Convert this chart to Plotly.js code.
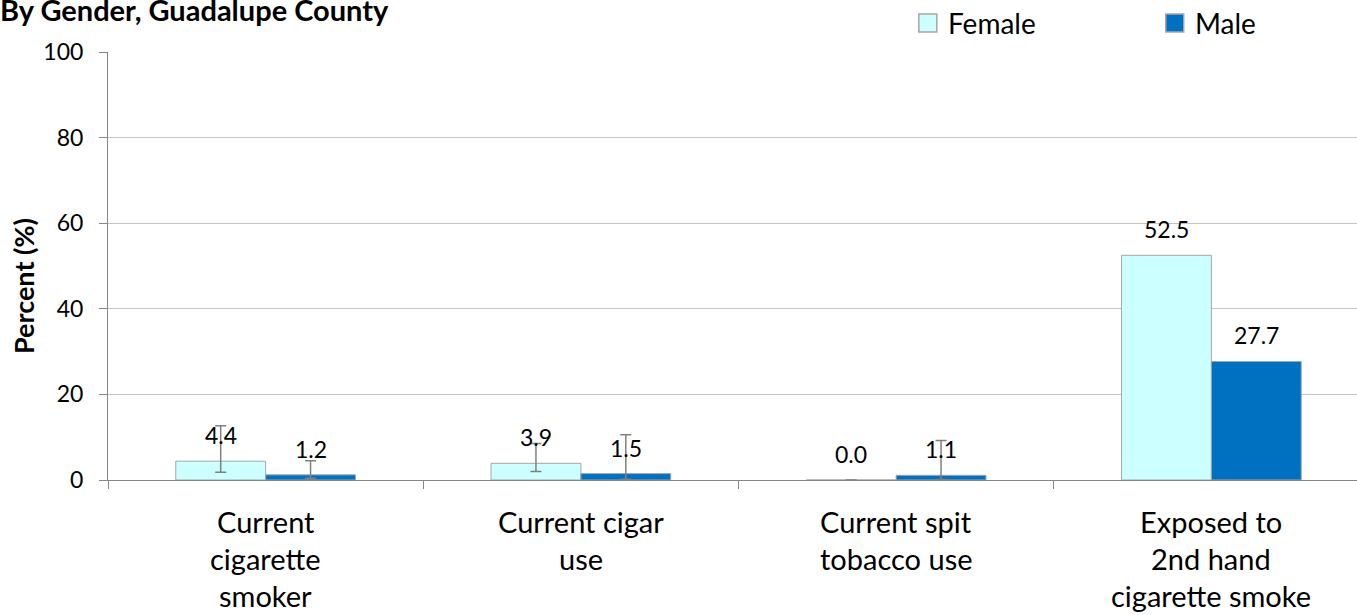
<!DOCTYPE html>
<html>
<head>
<meta charset="utf-8">
<script src="https://cdn.plot.ly/plotly-3.0.1.min.js"></script>
<style>
html,body{margin:0;padding:0;overflow:hidden;background:#fff;}
#chart{width:1370px;height:615px;}
</style>
</head>
<body>
<div id="chart"></div>
<script>
// ---- data ----
const categories = ["Current cigarette smoker", "Current cigar use", "Current spit tobacco use", "Exposed to 2nd hand cigarette smoke"];
const categoryLines = [["Current","cigarette","smoker"], ["Current cigar","use"], ["Current spit","tobacco use"], ["Exposed to","2nd hand","cigarette smoke"]];
const seriesNames = ["Female", "Male"];
const female = [4.4, 3.9, 0.0, 52.5];
const male = [1.2, 1.5, 1.1, 27.7];
// confidence interval bounds (null = not shown)
const femaleLow = [1.8, 2.0, 0.0, null];
const femaleHigh = [12.7, 8.5, 0.0, null];
const maleLow = [0.4, 0.2, 0.1, null];
const maleHigh = [4.5, 10.6, 9.2, null];
const yTicks = [0, 20, 40, 60, 80, 100];

const FONT = "Lato, 'Liberation Sans', sans-serif";
const FEMALE_COLOR = '#CCFFFF', MALE_COLOR = '#0070C0', EDGE = '#A6A6A6';
// pixel -> paper helpers (plot area: x 108..1369, y 52..480)
const PL = 108, PW = 1261.3, PB = 480, PH = 428;
const px = v => (v - PL) / PW;
const py = v => (PB - v) / PH;

const plus = (v, hi) => v.map((d, i) => hi[i] === null ? NaN : +(hi[i] - d).toFixed(2));
const minus = (v, lo) => v.map((d, i) => lo[i] === null ? NaN : +(d - lo[i]).toFixed(2));
const errStyle = {type: 'data', symmetric: false, color: '#808080', thickness: 1.5, width: 5.5};

const traces = [
  {type: 'bar', name: seriesNames[0], x: categories, y: female,
   marker: {color: FEMALE_COLOR, line: {color: EDGE, width: 1}},
   error_y: Object.assign({array: plus(female, femaleHigh), arrayminus: minus(female, femaleLow)}, errStyle)},
  {type: 'bar', name: seriesNames[1], x: categories, y: male,
   marker: {color: MALE_COLOR, line: {color: EDGE, width: 1}},
   error_y: Object.assign({array: plus(male, maleHigh), arrayminus: minus(male, maleLow)}, errStyle)}
];

const annotations = [];
// value labels
[[female, -45], [male, 45]].forEach(([vals, dx]) => {
  vals.forEach((v, i) => {
    annotations.push({x: categories[i], y: v, xref: 'x', yref: 'y', text: v.toFixed(1),
      showarrow: false, xshift: dx, yshift: 26, yanchor: 'middle', font: {family: FONT, size: 23, color: '#000'}});
  });
});
// category labels (multi-line)
const lineY = [521, 558, 595];
categoryLines.forEach((lines, i) => {
  lines.forEach((t, j) => {
    annotations.push({x: categories[i], y: py(lineY[j]), xref: 'x', yref: 'paper', text: t,
      showarrow: false, yanchor: 'middle', font: {family: FONT, size: 29, color: '#000'}});
  });
});
// y-axis title
annotations.push({x: px(23), y: py(286), xref: 'paper', yref: 'paper', text: '<b>Percent (%)</b>',
  textangle: -90, showarrow: false, xanchor: 'center', yanchor: 'middle', font: {family: FONT, size: 27, color: '#000'}});
// chart title (cut off at left as in source)
annotations.push({x: px(391), y: py(9), xref: 'paper', yref: 'paper', text: '<b>By Gender, Guadalupe County</b>',
  showarrow: false, xanchor: 'right', yanchor: 'middle', font: {family: FONT, size: 29, color: '#000'}});

// custom legend (square swatches + text)
const legendItems = [{name: seriesNames[0], color: FEMALE_COLOR, x0: 919}, {name: seriesNames[1], color: MALE_COLOR, x0: 1166}];
const shapes = [];
legendItems.forEach(it => {
  shapes.push({type: 'rect', xref: 'paper', yref: 'paper', x0: px(it.x0), x1: px(it.x0 + 18), y0: py(32), y1: py(14),
    fillcolor: it.color, line: {color: EDGE, width: 1.5}});
  annotations.push({x: px(it.x0 + 27), y: py(23), xref: 'paper', yref: 'paper', text: it.name, showarrow: false,
    xanchor: 'left', yanchor: 'middle', font: {family: FONT, size: 28, color: '#000'}});
});

const layout = {
  width: 1370, height: 615,
  margin: {l: 108, r: 1, t: 52, b: 135},
  paper_bgcolor: '#fff', plot_bgcolor: '#fff',
  barmode: 'group', bargap: 0.43, bargroupgap: 0,
  font: {family: FONT, size: 23, color: '#000'},
  showlegend: false,
  xaxis: {type: 'category', showticklabels: false, showline: true, linecolor: '#868686', linewidth: 1,
    ticks: 'outside', tickson: 'boundaries', ticklen: 8, tickcolor: '#868686', showgrid: false, zeroline: false,
    fixedrange: true},
  yaxis: {range: [0, 100], tickvals: yTicks, ticktext: yTicks.map(String), showline: true, linecolor: '#868686', linewidth: 1,
    ticks: 'outside', ticklen: 8, tickcolor: '#868686', showgrid: true, gridcolor: '#C4C4C4', gridwidth: 1,
    zeroline: false, ticklabelstandoff: 11, tickfont: {family: FONT, size: 23, color: '#000'}, fixedrange: true},
  shapes: shapes,
  annotations: annotations
};

Plotly.newPlot('chart', traces, layout, {displayModeBar: false, staticPlot: true});
</script>
</body>
</html>
